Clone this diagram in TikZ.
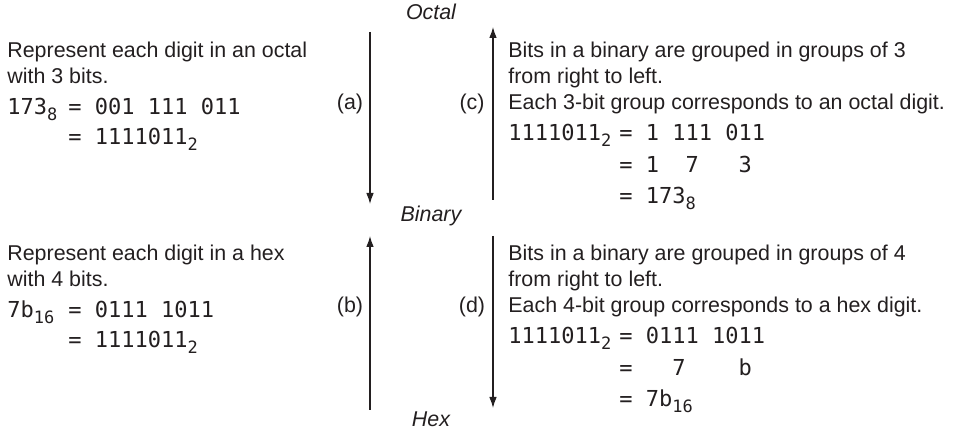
\documentclass[tikz,border=0pt]{standalone}
\usepackage{fontspec}
\setmainfont{Liberation Sans}
\setsansfont{Liberation Sans}
\setmonofont{DejaVu Sans Mono}
\usepackage{xcolor}
\usetikzlibrary{arrows.meta}
\definecolor{nbInk}{HTML}{231F20}
\newcommand{\nbsub}[1]{\raisebox{-3pt}{\fontsize{8.5}{9}\selectfont #1}}
\tikzset{
  nb diagram/.style={x=0.5pt, y=-0.5pt, text=nbInk, line cap=butt},
  nb text/.style={font=\fontsize{10.7}{13}\selectfont, anchor=base west, inner sep=0pt},
  nb code/.style={font=\fontsize{11}{13}\selectfont\ttfamily, anchor=base west, inner sep=0pt},
  nb base/.style={font=\fontsize{10.7}{13}\selectfont\itshape, anchor=base, inner sep=0pt},
  nb tag/.style={font=\fontsize{10.7}{13}\selectfont, anchor=base, inner sep=0pt},
  nb arrow/.style={-{Latex[length=5.5pt,width=3.8pt]}, draw=nbInk, line width=0.6pt}
}

\begin{document}
\begin{tikzpicture}[nb diagram]
\useasboundingbox (0,0) rectangle (965,432);
% number bases
\node[nb base] (octal) at (431,20) {Octal};
\node[nb base] (binary) at (431,222) {Binary};
\node[nb base] (hex) at (431,427) {Hex};
% arrow ends
\coordinate (a top) at (370,32);
\coordinate (a tip) at (370,204);
\coordinate (c foot) at (493,200);
\coordinate (c tip) at (493,27);
\coordinate (b foot) at (370,410);
\coordinate (b tip) at (370,236);
\coordinate (d top) at (493,236);
\coordinate (d tip) at (493,408);
\draw[nb arrow] (a top) -- (a tip);
\draw[nb arrow] (c foot) -- (c tip);
\draw[nb arrow] (b foot) -- (b tip);
\draw[nb arrow] (d top) -- (d tip);
\node[nb tag] (tag a) at (350,110) {(a)};
\node[nb tag] (tag c) at (472,110) {(c)};
\node[nb tag] (tag b) at (350,313) {(b)};
\node[nb tag] (tag d) at (472,313) {(d)};
% (a) octal to binary
\node[nb text] (oct line1) at (7,58) {Represent each digit in an octal};
\node[nb text] (oct line2) at (7,84) {with 3 bits.};
\node[nb code] (oct lhs) at (7,115) {173\nbsub{8}};
\node[nb code] (oct rhs1) at (68,115) {= 001 111 011};
\node[nb code] (oct rhs2) at (68,145) {= 1111011\nbsub{2}};
% (c) binary to octal
\node[nb text] (bo line1) at (508,58) {Bits in a binary are grouped in groups of 3};
\node[nb text] (bo line2) at (508,84) {from right to left.};
\node[nb text] (bo line3) at (508,110) {Each 3-bit group corresponds to an octal digit.};
\node[nb code] (bo lhs) at (508,141) {1111011\nbsub{2}};
\node[nb code] (bo rhs1) at (619,141) {= 1 111 011};
\node[nb code] (bo rhs2) at (619,173) {=~1~~7~~~3};
\node[nb code] (bo rhs3) at (619,204) {= 173\nbsub{8}};
% (b) hex to binary
\node[nb text] (hex line1) at (7,261) {Represent each digit in a hex};
\node[nb text] (hex line2) at (7,287) {with 4 bits.};
\node[nb code] (hex lhs) at (7,318) {7b\nbsub{16}};
\node[nb code] (hex rhs1) at (68,318) {= 0111 1011};
\node[nb code] (hex rhs2) at (68,348) {= 1111011\nbsub{2}};
% (d) binary to hex
\node[nb text] (bh line1) at (508,261) {Bits in a binary are grouped in groups of 4};
\node[nb text] (bh line2) at (508,287) {from right to left.};
\node[nb text] (bh line3) at (508,313) {Each 4-bit group corresponds to a hex digit.};
\node[nb code] (bh lhs) at (508,344) {1111011\nbsub{2}};
\node[nb code] (bh rhs1) at (619,344) {= 0111 1011};
\node[nb code] (bh rhs2) at (619,376) {=~~~7~~~~b};
\node[nb code] (bh rhs3) at (619,407) {= 7b\nbsub{16}};
\end{tikzpicture}
\end{document}
